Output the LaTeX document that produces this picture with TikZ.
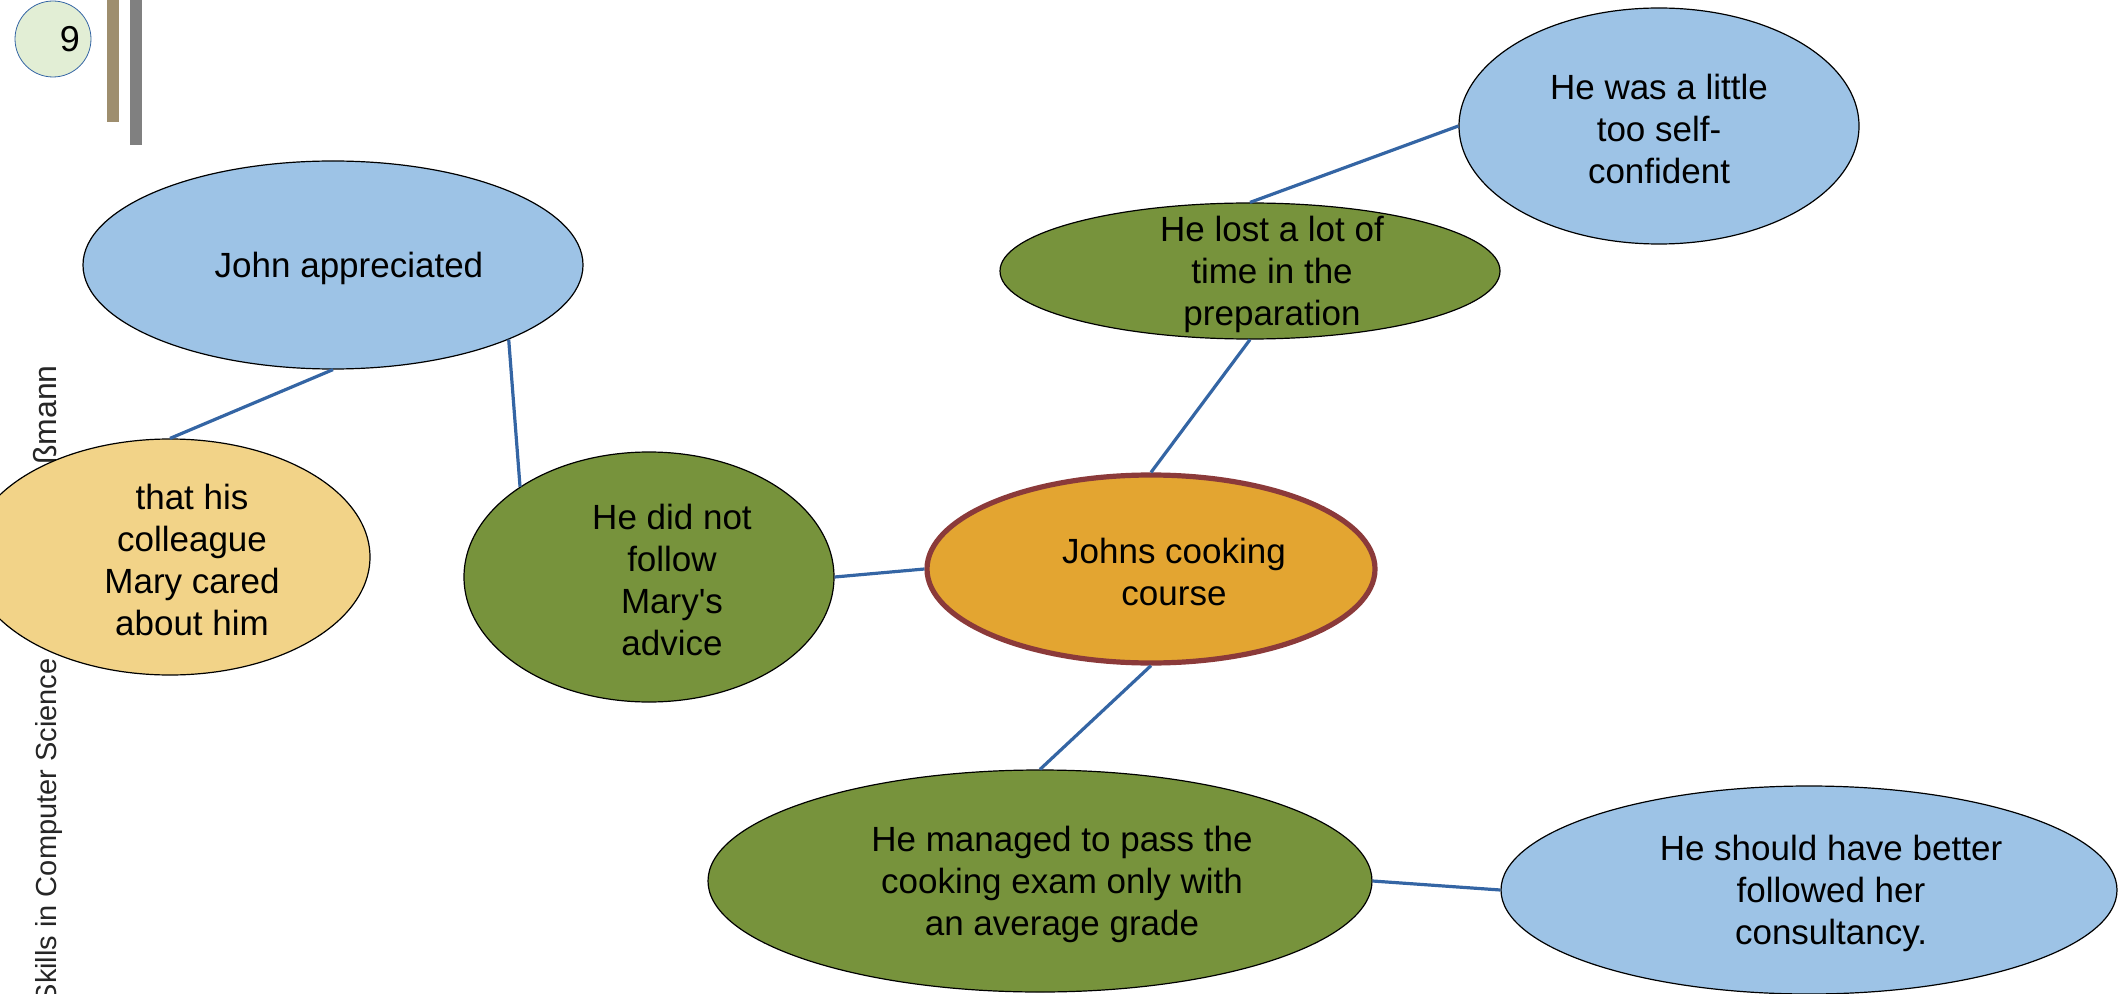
\documentclass[tikz,border=0pt]{standalone}
\usepackage{fontspec}
\setmainfont{Liberation Sans}
\usetikzlibrary{shapes.geometric}
\definecolor{skyblue}{HTML}{9DC3E6}
\definecolor{leafgreen}{HTML}{77933C}
\definecolor{sandyellow}{HTML}{F2D388}
\definecolor{cookorange}{HTML}{E3A531}
\definecolor{cookred}{HTML}{8B3A3A}
\definecolor{linkblue}{HTML}{3465A4}
\definecolor{pagegreen}{HTML}{E2EED5}
\definecolor{barbrown}{HTML}{9E8E6E}
\definecolor{bargray}{HTML}{808080}
\tikzset{bubble/.style={draw, ellipse, inner sep=0pt, line width=0.6pt},
  txt/.style={align=center, font=\fontsize{17.5}{21}\selectfont},
  link/.style={draw=linkblue, line width=1.6pt},
  side/.style={rotate=90, anchor=base east, inner sep=0pt, text=black!85,
    font=\fontsize{14.5}{16}\selectfont}}

\begin{document}
\begin{tikzpicture}[x=0.5pt, y=-0.5pt]
        \useasboundingbox (0,0) rectangle (2118,994);
        \fill[barbrown] (107,0) rectangle (119,122);
        \fill[bargray] (130,0) rectangle (142,145);
        \node[circle, draw=linkblue, fill=pagegreen, minimum size=38pt, inner sep=0pt,
            label={[xshift=8.5pt, font=\fontsize{18}{20}\selectfont]center:9}] (page) at (53,39) {};
        \node[side] (course) at (56,658) {Skills in Computer Science};
        \node[side, font=\fontsize{16}{18}\selectfont] (author) at (56,365) {ßmann};

        \node[bubble, fill=skyblue, minimum width=250pt, minimum height=104pt,
            label={[txt, xshift=8pt, yshift=-1.5pt]center:John appreciated}] (john) at (333,265) {};
        \node[bubble, fill=sandyellow, minimum width=200pt, minimum height=118pt,
            label={[txt, xshift=11pt, yshift=-1.5pt]center:that his\\colleague\\Mary cared\\about him}] (that) at (170,557) {};
        \node[bubble, fill=leafgreen, minimum width=185pt, minimum height=125pt,
            label={[txt, xshift=11.5pt, yshift=-1.5pt]center:He did not\\follow\\Mary\textquotesingle s\\advice}] (advice) at (649,577) {};
        \node[bubble, draw=cookred, line width=2.6pt, fill=cookorange, minimum width=224pt, minimum height=94pt,
            label={[txt, xshift=11.5pt, yshift=-1.5pt]center:Johns cooking\\course}] (cook) at (1151,569) {};
        \node[bubble, fill=leafgreen, minimum width=250pt, minimum height=68pt,
            label={[txt, xshift=11pt, yshift=-1.5pt]center:He lost a lot of\\time in the\\preparation}] (prep) at (1250,271) {};
        \node[bubble, fill=skyblue, minimum width=200pt, minimum height=118pt,
            label={[txt, yshift=-1.5pt]center:He was a little\\too self-\\confident}] (self) at (1659,126) {};
        \node[bubble, fill=leafgreen, minimum width=332pt, minimum height=111pt,
            label={[txt, xshift=11pt, yshift=-1.5pt]center:He managed to pass the\\cooking exam only with\\an average grade}] (exam) at (1040,881) {};
        \node[bubble, fill=skyblue, minimum width=308pt, minimum height=104pt,
            label={[txt, xshift=11pt, yshift=-1.5pt]center:He should have better\\followed her\\consultancy.}] (consult) at (1809,890) {};

        \draw[link] (john.south) -- (that.north);
        \draw[link] (john.-23) -- (advice.145);
        \draw[link] (advice.east) -- (cook.west);
        \draw[link] (cook.north) -- (prep.south);
        \draw[link] (prep.north) -- (self.west);
        \draw[link] (cook.south) -- (exam.north);
        \draw[link] (exam.east) -- (consult.west);
    \end{tikzpicture}
\end{document}
